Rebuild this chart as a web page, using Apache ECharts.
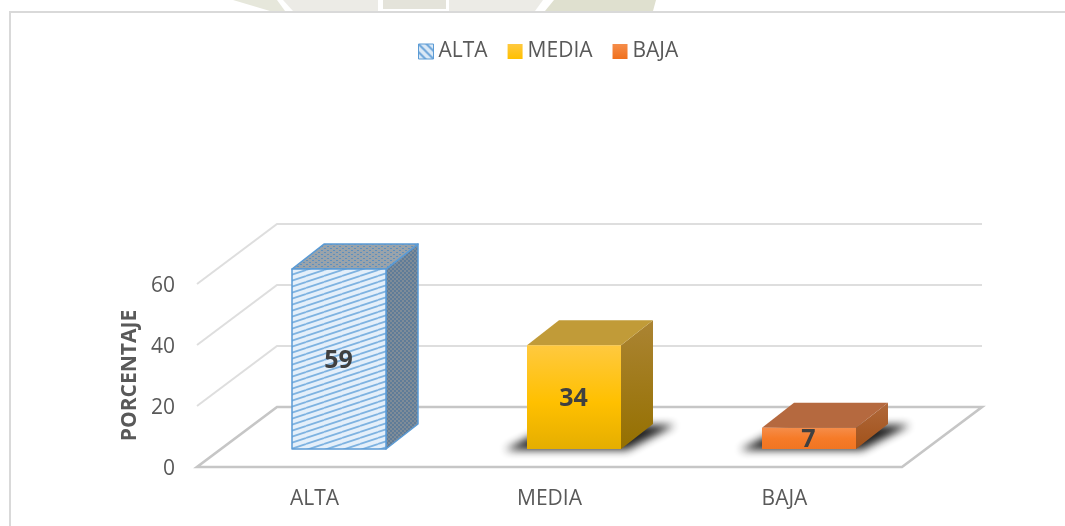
<!DOCTYPE html>
<html>
<head>
<meta charset="utf-8">
<script src="https://cdn.jsdelivr.net/npm/echarts@6/dist/echarts.min.js"></script>
<style>html,body{margin:0;padding:0;background:#fff}#c{width:1065px;height:526px}</style>
</head>
<body>
<div id="c"></div>
<script>
var categories = ['ALTA', 'MEDIA', 'BAJA'];
var values = [59, 34, 7];
var tickValues = [0, 20, 40, 60];
var axisName = 'PORCENTAJE';

var FONT = '"Open Sans", sans-serif';
var TEXT = '#595959';
var LG = echarts.graphic.LinearGradient;

function tile(w, h, draw) {
  var c = document.createElement('canvas');
  c.width = w; c.height = h;
  draw(c.getContext('2d'));
  return { image: c, repeat: 'repeat' };
}
var hatchFront = tile(18, 6, function (g) {
  g.fillStyle = '#e4effa'; g.fillRect(0, 0, 18, 6);
  g.strokeStyle = '#7fb3e1'; g.lineWidth = 1.8;
  for (var k = -6; k <= 12; k += 6) {
    g.beginPath(); g.moveTo(0, k + 6); g.lineTo(18, k); g.stroke();
  }
});
var hatchSide = tile(4, 4, function (g) {
  g.fillStyle = '#7f8c98'; g.fillRect(0, 0, 4, 4);
  g.fillStyle = '#5f7c98'; g.fillRect(0, 0, 2, 2); g.fillRect(2, 2, 2, 2);
});
var hatchTop = tile(6, 4, function (g) {
  g.fillStyle = '#9aa3aa'; g.fillRect(0, 0, 6, 4);
  g.fillStyle = '#5d8fbf'; g.fillRect(0, 0, 2, 1); g.fillRect(3, 2, 2, 1);
});
var hatchLegend = tile(8, 8, function (g) {
  g.fillStyle = '#dbe9f6'; g.fillRect(0, 0, 8, 8);
  g.strokeStyle = '#6ea6da'; g.lineWidth = 2;
  g.beginPath(); g.moveTo(-2, -2); g.lineTo(10, 10); g.moveTo(-2, 6); g.lineTo(2, 10); g.moveTo(6, -2); g.lineTo(10, 2); g.stroke();
});

var styles = [
  { front: hatchFront, side: hatchSide, top: hatchTop, stroke: '#5b9bd5', shadow: false },
  {
    front: new LG(0, 0, 0, 1, [{ offset: 0, color: '#ffc93f' }, { offset: 0.55, color: '#ffc000' }, { offset: 1, color: '#e5ae00' }]),
    side: new LG(0, 0, 0, 1, [{ offset: 0, color: '#ab8433' }, { offset: 1, color: '#957000' }]),
    top: '#c19b38', stroke: null, shadow: true
  },
  {
    front: new LG(0, 0, 0, 1, [{ offset: 0, color: '#f58d4a' }, { offset: 0.5, color: '#f67b28' }, { offset: 1, color: '#f07522' }]),
    side: new LG(0, 0, 0, 1, [{ offset: 0, color: '#b0683a' }, { offset: 1, color: '#a1521a' }]),
    top: '#b5693f', stroke: null, shadow: true
  }
];

var WALL_DX = 80, WALL_DY = -60;
var SHIFT_DX = 24.5, SHIFT_DY = -18;
var BAR_DX = 32, BAR_DY = -25;
var OFF = 3000;

function poly(pts, style, z2) {
  return { type: 'polygon', shape: { points: pts }, style: style, z2: z2 || 0 };
}

function renderWall(params, api) {
  var v = api.value(0);
  var cs = params.coordSys;
  var p = api.coord([0, v]);
  var xl = cs.x, xr = cs.x + cs.width, y = p[1];
  if (v === 0) {
    return {
      type: 'polygon',
      shape: { points: [[xl, y], [xr, y], [xr + WALL_DX, y + WALL_DY], [xl + WALL_DX, y + WALL_DY]] },
      style: { fill: 'none', stroke: '#c6c6c6', lineWidth: 2.6, lineJoin: 'miter' }
    };
  }
  return {
    type: 'polyline',
    shape: { points: [[xl, y], [xl + WALL_DX, y + WALL_DY], [xr + WALL_DX, y + WALL_DY]] },
    style: { fill: 'none', stroke: '#dedede', lineWidth: 2 }
  };
}

function renderBar(params, api) {
  var idx = api.value(0);
  var val = api.value(1);
  var s = styles[idx];
  var base = api.coord([idx, 0]);
  var topPt = api.coord([idx, val]);
  var w = api.size([1, 0])[0] * 0.4;
  var x0 = base[0] + SHIFT_DX - w / 2, x1 = x0 + w;
  var yb = base[1] + SHIFT_DY, yt = topPt[1] + SHIFT_DY;
  var edge = s.stroke ? { stroke: s.stroke, lineWidth: 1.5, lineJoin: 'round' } : {};
  var children = [];
  if (s.shadow) {
    children.push(poly(
      [[x0 - 22 - OFF, yb + 1], [x1 + 6 - OFF, yb + 1], [x1 + 54 - OFF, yb - 24], [x0 + 25 - OFF, yb - 24]],
      { fill: '#000', shadowBlur: 9, shadowColor: 'rgba(20,20,20,0.95)', shadowOffsetX: OFF, shadowOffsetY: 0 }, 0));
  }
  children.push(poly([[x1, yb], [x1 + BAR_DX, yb + BAR_DY], [x1 + BAR_DX, yt + BAR_DY], [x1, yt]],
    Object.assign({ fill: s.side }, edge), 1));
  children.push(poly([[x0, yt], [x1, yt], [x1 + BAR_DX, yt + BAR_DY], [x0 + BAR_DX, yt + BAR_DY]],
    Object.assign({ fill: s.top }, edge), 1));
  children.push(poly([[x0, yb], [x1, yb], [x1, yt], [x0, yt]],
    Object.assign({ fill: s.front }, edge), 2));
  children.push({
    type: 'text', z2: 3,
    style: {
      x: (x0 + x1) / 2 - 0.5, y: (yb + yt) / 2 + 2, text: String(val),
      fill: '#404040', font: 'bold 25px ' + FONT, align: 'center', verticalAlign: 'middle'
    }
  });
  return { type: 'group', children: children };
}

var barSeries = categories.map(function (name, i) {
  return {
    name: name, type: 'custom', coordinateSystem: 'cartesian2d', clip: false, z: 3 + i,
    renderItem: renderBar, encode: { x: 0, y: 1 }, data: [[i, values[i]]]
  };
});

function wm(pts, fill) {
  return { type: 'polygon', silent: true, z: 0, shape: { points: pts }, style: { fill: fill } };
}

var chart = echarts.init(document.getElementById('c'), null, { renderer: 'canvas' });
chart.setOption({
  animation: false,
  backgroundColor: '#ffffff',
  graphic: [
    wm([[233, 0], [277, 0], [285, 11], [270, 11]], '#e6e7db'),
    wm([[283, 0], [378, 0], [378, 11], [293, 11]], '#ecebe6'),
    wm([[383, 0], [446, 0], [446, 9], [383, 9]], '#e4e3da'),
    wm([[449, 0], [543, 0], [535, 11], [449, 11]], '#ecebe6'),
    wm([[554, 0], [656, 0], [653, 11], [545, 11]], '#dfe0cf'),
    { type: 'line', silent: true, z: 1, shape: { x1: 10, y1: 12, x2: 1065, y2: 12 }, style: { stroke: '#d9d9d9', lineWidth: 2 } },
    { type: 'line', silent: true, z: 1, shape: { x1: 10, y1: 11, x2: 10, y2: 526 }, style: { stroke: '#d9d9d9', lineWidth: 2 } }
  ],
  legend: {
    left: 413, top: 36, itemWidth: 15, itemHeight: 15, itemGap: 20,
    textStyle: { fontFamily: FONT, fontSize: 21, color: TEXT },
    selectedMode: false,
    data: [
      { name: 'ALTA', icon: 'rect', itemStyle: { color: hatchLegend, borderColor: '#5b9bd5', borderWidth: 1 } },
      { name: 'MEDIA', icon: 'rect', itemStyle: { color: new LG(0, 0, 0, 1, [{ offset: 0, color: '#ffc93f' }, { offset: 1, color: '#ffc000' }]), borderWidth: 0 } },
      { name: 'BAJA', icon: 'rect', itemStyle: { color: new LG(0, 0, 0, 1, [{ offset: 0, color: '#f58d4a' }, { offset: 1, color: '#f0701c' }]), borderWidth: 0 } }
    ]
  },
  grid: { left: 197, right: 163, top: 284, bottom: 59, containLabel: false },
  xAxis: {
    type: 'category', data: categories,
    axisLine: { show: false }, axisTick: { show: false }, splitLine: { show: false },
    axisLabel: { fontFamily: FONT, fontSize: 21, color: TEXT, margin: 22 }
  },
  yAxis: {
    type: 'value', min: 0, max: 60, interval: 20,
    name: axisName, nameLocation: 'middle', nameGap: 56,
    nameTextStyle: { fontFamily: FONT, fontSize: 21, fontWeight: 'bold', color: TEXT },
    axisLine: { show: false }, axisTick: { show: false }, splitLine: { show: false },
    axisLabel: { fontFamily: FONT, fontSize: 21, color: TEXT, margin: 22, verticalAlign: 'top', lineHeight: 4 }
  },
  series: [{
    name: 'walls', type: 'custom', coordinateSystem: 'cartesian2d', clip: false, z: 2, silent: true,
    renderItem: renderWall, encode: { y: 0 }, data: tickValues.map(function (v) { return [v]; })
  }].concat(barSeries)
});
</script>
</body>
</html>
